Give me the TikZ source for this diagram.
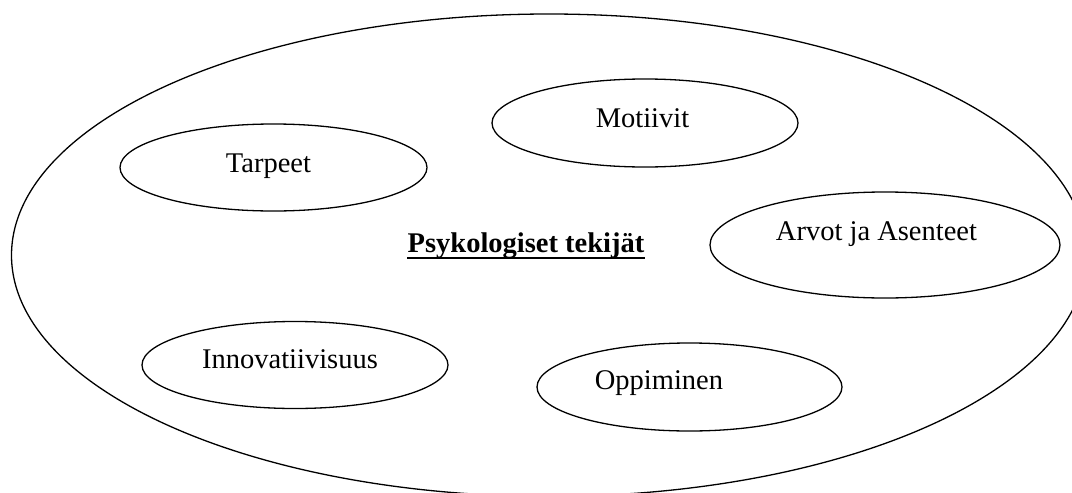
\documentclass[tikz,border=0pt]{standalone}
\usepackage{fontspec}
\setmainfont{Liberation Serif}
\usetikzlibrary{shapes.geometric}
\begin{document}
\begin{tikzpicture}[x=1pt,y=-1pt,
  oval/.style={draw, ellipse, line width=1.3pt, inner sep=0pt},
  lbl/.style={font=\fontsize{28.5}{34}\selectfont, anchor=base, inner sep=0pt}]
\useasboundingbox (0,0) rectangle (1072,493);
\clip (0,0) rectangle (1072,493);
\node[oval, minimum width=1075pt, minimum height=482.4pt] (outer) at (549,255.2) {};
\node[oval, minimum width=307pt, minimum height=87pt] (tarpeet) at (273.5,167.5) {};
\node[oval, minimum width=306pt, minimum height=88pt] (motiivit) at (645,123) {};
\node[oval, minimum width=350pt, minimum height=106pt] (arvot) at (885,245) {};
\node[oval, minimum width=306pt, minimum height=87pt] (innov) at (295,365) {};
\node[oval, minimum width=305pt, minimum height=88pt] (oppim) at (689.5,387) {};
\node[lbl] (tarpeetT) at (268.5,172) {Tarpeet};
\node[lbl] (motiivitT) at (642.5,127) {Motiivit};
\node[lbl] (arvotT) at (876.5,240) {Arvot ja Asenteet};
\node[lbl] (innovT) at (290,368) {Innovatiivisuus};
\node[lbl] (oppimT) at (659,389) {Oppiminen};
\node[lbl, font=\fontsize{28.5}{34}\selectfont\bfseries] (title) at (526,252) {Psykologiset tekijät};
\draw[line width=2pt] ([yshift=-6pt]title.base west) -- ([yshift=-6pt]title.base east);
\end{tikzpicture}
\end{document}
